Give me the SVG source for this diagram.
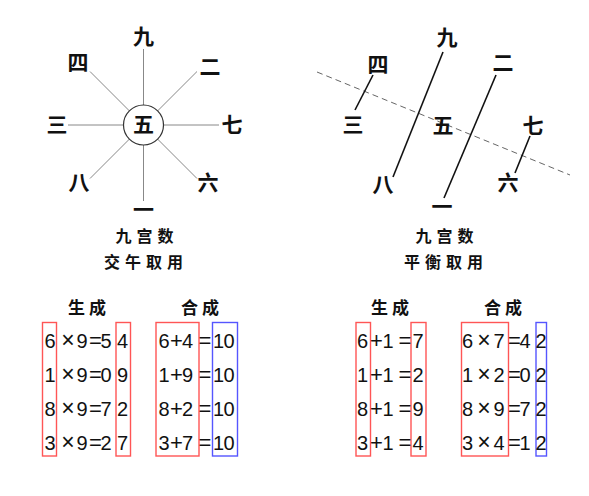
<svg xmlns="http://www.w3.org/2000/svg" width="589" height="496" viewBox="0 0 589 496">
<style>
.cn{font-family:"Noto Sans CJK SC","Noto Sans CJK JP",sans-serif;font-weight:bold;fill:#111;text-anchor:middle}
.big{font-size:21px}
.ttl{font-size:16px;letter-spacing:5px}
.hd{font-size:17px;letter-spacing:4px}
.eq{font-family:"Liberation Sans",Arial,sans-serif;font-size:20px;fill:#111;text-anchor:middle}
.x{font-size:23px}
.p{font-size:22px}
.q{font-size:22px}
.gl{stroke:#888;stroke-width:1;fill:none}
.bl{stroke:#111;stroke-width:1.6;fill:none}
.rr{fill:none;stroke:#ff5555;stroke-width:1.4}
.br{fill:none;stroke:#5555ff;stroke-width:1.4}
</style>
<rect width="589" height="496" fill="#fff"/>
<g id="connectors">
<line class="gl" x1="143.5" y1="49" x2="143.5" y2="105"/>
<line class="gl" x1="143.5" y1="145" x2="143.5" y2="201"/>
<line class="gl" x1="68" y1="125" x2="123.5" y2="125"/>
<line class="gl" x1="163.5" y1="125" x2="219" y2="125"/>
<line class="gl" x1="90" y1="71.5" x2="129.4" y2="110.9"/>
<line class="gl" x1="197" y1="71.5" x2="157.6" y2="110.9"/>
<line class="gl" x1="90" y1="178.5" x2="129.4" y2="139.1"/>
<line class="gl" x1="197" y1="178.5" x2="157.6" y2="139.1"/>
<line x1="317" y1="72" x2="570" y2="175" stroke="#666" stroke-width="1" stroke-dasharray="6,4"/>
<line class="bl" x1="373" y1="75" x2="355" y2="110"/>
<line class="bl" x1="443" y1="52" x2="393" y2="177"/>
<line class="bl" x1="496" y1="75" x2="444" y2="198"/>
<line class="bl" x1="530" y1="136" x2="515" y2="173"/>
</g>
<g id="left-star">
<g id="L5"><circle cx="143.5" cy="125" r="20" fill="#fff" stroke="#333" stroke-width="1.2"/><text class="cn big" x="143.5" y="132">五</text></g>
<g id="L9"><text class="cn big" x="143.5" y="44">九</text></g>
<g id="L4"><text class="cn big" x="78" y="70">四</text></g>
<g id="L2"><text class="cn big" x="210" y="74">二</text></g>
<g id="L3"><text class="cn big" x="57" y="132">三</text></g>
<g id="L7"><text class="cn big" x="232" y="132">七</text></g>
<g id="L8"><text class="cn big" x="79" y="190">八</text></g>
<g id="L6"><text class="cn big" x="208" y="190">六</text></g>
<g id="L1"><text class="cn big" x="143.5" y="217">一</text></g>
</g>
<g id="right-star">
<g id="R9"><text class="cn big" x="447" y="45">九</text></g>
<g id="R4"><text class="cn big" x="378" y="72">四</text></g>
<g id="R2"><text class="cn big" x="503" y="70">二</text></g>
<g id="R3"><text class="cn big" x="353" y="132">三</text></g>
<g id="R5"><text class="cn big" x="443" y="133">五</text></g>
<g id="R7"><text class="cn big" x="533" y="133">七</text></g>
<g id="R8"><text class="cn big" x="383" y="192">八</text></g>
<g id="R6"><text class="cn big" x="508" y="190">六</text></g>
<g id="R1"><text class="cn big" x="442" y="214">一</text></g>
</g>
<g id="titles">
<text class="cn ttl" x="147" y="242">九宫数</text>
<text class="cn ttl" x="146" y="268">交午取用</text>
<text class="cn ttl" x="447" y="242">九宫数</text>
<text class="cn ttl" x="446" y="268">平衡取用</text>
<text class="cn hd" x="89" y="314">生成</text>
<text class="cn hd" x="202" y="314">合成</text>
<text class="cn hd" x="392" y="314">生成</text>
<text class="cn hd" x="505" y="314">合成</text>
</g>
<g id="boxes">
<rect class="rr" x="42.5" y="322.5" width="14" height="133.5"/>
<rect class="rr" x="116" y="322.5" width="14.5" height="133.5"/>
<rect class="rr" x="156" y="322.5" width="43" height="133.5"/>
<rect class="br" x="212.5" y="322.5" width="25" height="133.5"/>
<rect class="rr" x="356" y="322.5" width="14.5" height="133.5"/>
<rect class="rr" x="411" y="322.5" width="15" height="133.5"/>
<rect class="rr" x="461.5" y="322.5" width="47" height="133.5"/>
<rect class="br" x="536" y="322.5" width="10.5" height="133.5"/>
</g>
<g id="eq-left-gen" class="eq">
<text y="347.5"><tspan x="50">6</tspan><tspan x="68" class="x">×</tspan><tspan x="82">9</tspan><tspan x="95.5" class="q">=</tspan><tspan x="106">5</tspan><tspan x="122.5">4</tspan></text>
<text y="381.5"><tspan x="50">1</tspan><tspan x="68" class="x">×</tspan><tspan x="82">9</tspan><tspan x="95.5" class="q">=</tspan><tspan x="106">0</tspan><tspan x="122.5">9</tspan></text>
<text y="415.5"><tspan x="50">8</tspan><tspan x="68" class="x">×</tspan><tspan x="82">9</tspan><tspan x="95.5" class="q">=</tspan><tspan x="106">7</tspan><tspan x="122.5">2</tspan></text>
<text y="449.5"><tspan x="50">3</tspan><tspan x="68" class="x">×</tspan><tspan x="82">9</tspan><tspan x="95.5" class="q">=</tspan><tspan x="106">2</tspan><tspan x="122.5">7</tspan></text>
</g>
<g id="eq-left-sum" class="eq">
<text y="347.5"><tspan x="164">6</tspan><tspan x="176.5" class="p">+</tspan><tspan x="187.5">4</tspan><tspan x="205" class="q">=</tspan><tspan x="218.5">1</tspan><tspan x="229">0</tspan></text>
<text y="381.5"><tspan x="164">1</tspan><tspan x="176.5" class="p">+</tspan><tspan x="187.5">9</tspan><tspan x="205" class="q">=</tspan><tspan x="218.5">1</tspan><tspan x="229">0</tspan></text>
<text y="415.5"><tspan x="164">8</tspan><tspan x="176.5" class="p">+</tspan><tspan x="187.5">2</tspan><tspan x="205" class="q">=</tspan><tspan x="218.5">1</tspan><tspan x="229">0</tspan></text>
<text y="449.5"><tspan x="164">3</tspan><tspan x="176.5" class="p">+</tspan><tspan x="187.5">7</tspan><tspan x="205" class="q">=</tspan><tspan x="218.5">1</tspan><tspan x="229">0</tspan></text>
</g>
<g id="eq-right-gen" class="eq">
<text y="347.5"><tspan x="362.5">6</tspan><tspan x="376.5" class="p">+</tspan><tspan x="388">1</tspan><tspan x="405" class="q">=</tspan><tspan x="418">7</tspan></text>
<text y="381.5"><tspan x="362.5">1</tspan><tspan x="376.5" class="p">+</tspan><tspan x="388">1</tspan><tspan x="405" class="q">=</tspan><tspan x="418">2</tspan></text>
<text y="415.5"><tspan x="362.5">8</tspan><tspan x="376.5" class="p">+</tspan><tspan x="388">1</tspan><tspan x="405" class="q">=</tspan><tspan x="418">9</tspan></text>
<text y="449.5"><tspan x="362.5">3</tspan><tspan x="376.5" class="p">+</tspan><tspan x="388">1</tspan><tspan x="405" class="q">=</tspan><tspan x="418">4</tspan></text>
</g>
<g id="eq-right-prod" class="eq">
<text y="347.5"><tspan x="467.5">6</tspan><tspan x="484" class="x">×</tspan><tspan x="499">7</tspan><tspan x="514.5" class="q">=</tspan><tspan x="525">4</tspan><tspan x="541">2</tspan></text>
<text y="381.5"><tspan x="467.5">1</tspan><tspan x="484" class="x">×</tspan><tspan x="499">2</tspan><tspan x="514.5" class="q">=</tspan><tspan x="525">0</tspan><tspan x="541">2</tspan></text>
<text y="415.5"><tspan x="467.5">8</tspan><tspan x="484" class="x">×</tspan><tspan x="499">9</tspan><tspan x="514.5" class="q">=</tspan><tspan x="525">7</tspan><tspan x="541">2</tspan></text>
<text y="449.5"><tspan x="467.5">3</tspan><tspan x="484" class="x">×</tspan><tspan x="499">4</tspan><tspan x="514.5" class="q">=</tspan><tspan x="525">1</tspan><tspan x="541">2</tspan></text>
</g>
</svg>
